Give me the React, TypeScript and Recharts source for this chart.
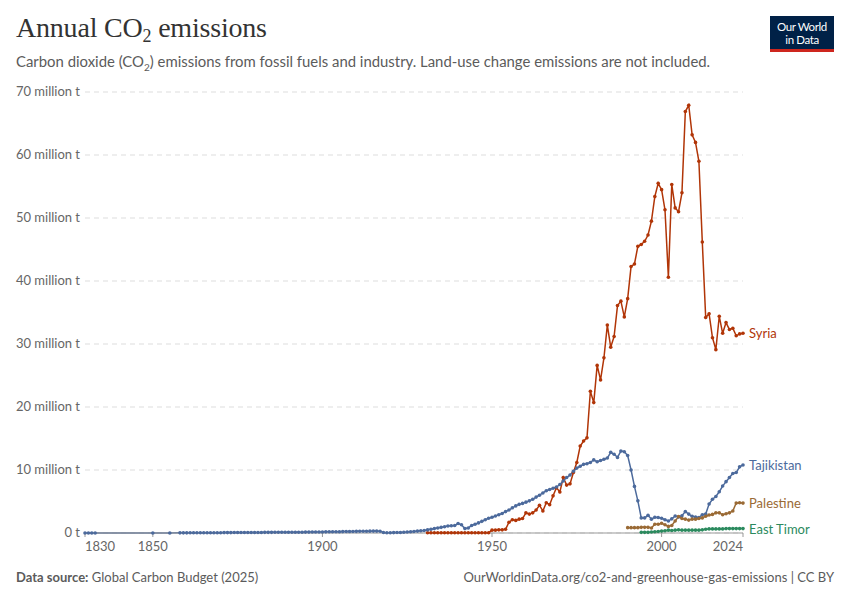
import React from 'react';
import { LineChart, Line, XAxis, YAxis, CartesianGrid, LabelList } from 'recharts';

// million tonnes of CO2
const syriaStart = 1931;
const syria = [
  0.05, 0.05, 0.05, 0.05, 0.05, 0.05, 0.05, 0.05, 0.05, 0.05,
  0.05, 0.05, 0.05, 0.05, 0.05, 0.05, 0.05, 0.05, 0.05,
  0.45, 0.45, 0.5, 0.5, 0.6, 1.7, 2.1, 2.0, 2.2, 2.3,
  3.2, 3.0, 3.2, 3.65, 4.4, 3.5, 4.8, 4.5, 5.9, 7.2,
  6.5, 8.8, 7.6, 7.8, 9.6, 11.2, 13.8, 14.6, 15.1, 22.5,
  20.7, 26.6, 24.3, 27.8, 33.0, 29.5, 31.2, 36.1, 36.8, 34.3,
  37.2, 42.3, 42.7, 45.5, 45.8, 46.3, 47.3, 49.5, 53.4, 55.5,
  54.5, 51.3, 40.6, 55.3, 51.6, 51.0, 54.0, 66.9, 67.9, 63.2,
  62.0, 59.0, 46.2, 34.2, 34.8, 31.0, 29.1, 34.4, 31.7, 33.4,
  32.3, 32.5, 31.3, 31.6, 31.7,
];

const tajikistanEarlyYears = [1830, 1831, 1832, 1833, 1850, 1855];
const tajikistanEarly = [0.01, 0.01, 0.01, 0.01, 0.01, 0.01];
const tajikistanStart = 1858;
const tajikistan = [
  0.02, 0.02, 0.02, 0.03, 0.03, 0.03, 0.03, 0.04, 0.04, 0.04,
  0.05, 0.05, 0.05, 0.06, 0.06, 0.06, 0.07, 0.07, 0.07, 0.08,
  0.08, 0.08, 0.09, 0.09, 0.09, 0.1, 0.1, 0.1, 0.11, 0.11,
  0.11, 0.12, 0.12, 0.12, 0.13, 0.13, 0.13, 0.14, 0.14, 0.15, 0.15, 0.16,
  0.17, 0.18, 0.19, 0.2, 0.2, 0.21, 0.22, 0.23, 0.24, 0.25,
  0.26, 0.27, 0.28, 0.28, 0.29, 0.3, 0.3, 0.28, 0.08, 0.05,
  0.05, 0.06, 0.07, 0.09, 0.12, 0.15, 0.2, 0.25, 0.3, 0.35,
  0.4, 0.5, 0.6, 0.7, 0.8, 0.9, 1.0, 1.1, 1.15, 1.2,
  1.5, 1.3, 0.7, 0.8, 1.2, 1.4, 1.6, 1.85, 2.1, 2.35,
  2.5, 2.7, 2.9, 3.1, 3.4, 3.65, 4.0, 4.3, 4.55, 4.7,
  4.9, 5.1, 5.35, 5.7, 6.0, 6.35, 6.7, 6.9, 7.1, 7.3,
  7.7, 8.25, 8.8, 9.2, 9.8, 10.3, 10.6, 10.9, 11.0, 11.2,
  11.6, 11.3, 11.5, 11.7, 11.9, 12.8, 12.5, 12.0, 13.0, 12.9,
  12.3, 10.0, 7.4, 5.1, 2.4, 2.4, 2.8, 2.2, 2.5, 2.45,
  2.35, 2.1, 1.9, 2.25, 2.7, 2.55, 2.75, 3.4, 3.0, 2.65,
  2.55, 2.45, 2.9, 3.0, 4.6, 5.35, 5.8, 6.55, 7.45, 8.15,
  8.8, 9.45, 9.6, 10.5, 10.8,
];

const palestineStart = 1990;
const palestine = [
  0.85, 0.85, 0.85, 0.85, 0.9, 0.9, 0.9, 0.8, 1.4, 1.4,
  1.55, 1.3, 1.05, 1.2, 1.9, 2.6, 2.3, 2.2, 2.05, 2.2,
  2.2, 2.3, 2.4, 2.65, 2.85, 2.95, 3.2, 3.2, 2.9, 3.05,
  3.2, 3.5, 4.75, 4.8, 4.75,
];

const eastTimorStart = 1994;
const eastTimor = [
  0.1, 0.1, 0.1, 0.15, 0.2, 0.25, 0.3, 0.35, 0.45, 0.4,
  0.45, 0.5, 0.45, 0.45, 0.45, 0.45, 0.45, 0.45, 0.5, 0.6,
  0.65, 0.65, 0.65, 0.65, 0.65, 0.7, 0.7, 0.7, 0.7, 0.7, 0.7,
];

const xTicks = [1830, 1850, 1900, 1950, 2000, 2024];
const yTicks = [0, 10, 20, 30, 40, 50, 60, 70];

const rows: Record<number, any> = {};
const put = (year: number, key: string, v: number) => {
  if (!rows[year]) rows[year] = { year };
  rows[year][key] = v;
};
tajikistanEarlyYears.forEach((y, i) => put(y, 'Tajikistan', tajikistanEarly[i]));
tajikistan.forEach((v, i) => put(tajikistanStart + i, 'Tajikistan', v));
syria.forEach((v, i) => put(syriaStart + i, 'Syria', v));
palestine.forEach((v, i) => put(palestineStart + i, 'Palestine', v));
eastTimor.forEach((v, i) => put(eastTimorStart + i, 'East Timor', v));
const data = Object.values(rows).sort((a, b) => a.year - b.year);
const lastIndex = data.length - 1;

const sans = 'Lato, "Noto Sans", sans-serif';

const series = [
  { key: 'Syria', color: '#b13507' },
  { key: 'Tajikistan', color: '#4c6a9c' },
  { key: 'Palestine', color: '#9a6a35' },
  { key: 'East Timor', color: '#2b8a5e' },
];

const YTick = (props: any) => {
  const { y, payload } = props;
  const label = payload.value === 0 ? '0 t' : `${payload.value} million t`;
  return (
    <text x={80} y={y} dy={4} textAnchor="end" fontSize={13} fill="#666" fontFamily={sans}>
      {label}
    </text>
  );
};

const XTick = (props: any) => {
  const { x, y, payload, index } = props;
  const anchor = index === 0 ? 'start' : index === xTicks.length - 1 ? 'end' : 'middle';
  return (
    <text x={x} y={y} dy={12} textAnchor={anchor} fontSize={13} fill="#666" fontFamily={sans}>
      {payload.value}
    </text>
  );
};

const endLabel = (name: string, color: string) => (props: any) => {
  const { x, y, index } = props;
  if (index !== lastIndex) return null;
  return (
    <text x={x + 6} y={y} dy={5} fontSize={13} fill={color} fontFamily={sans}>
      {name}
    </text>
  );
};

const Dot = (color: string) => (props: any) => {
  const { cx, cy, value } = props;
  if (value == null || cx == null || cy == null) return null;
  return <circle key={`${cx}-${cy}`} cx={cx} cy={cy} r={1.8} fill={color} />;
};

export default function App() {
  return (
    <div style={{ position: 'absolute', left: 0, top: 0, width: 850, height: 600, background: '#fff', fontFamily: sans }}>
      <div style={{ position: 'absolute', left: 16, top: 12, fontFamily: '"Liberation Serif", "DejaVu Serif", serif', fontSize: 28, color: '#333', letterSpacing: -0.2 }}>
        Annual CO<sub style={{ fontSize: 18, verticalAlign: -5, lineHeight: 0 }}>2</sub> emissions
      </div>
      <div style={{ position: 'absolute', left: 16, top: 52, fontSize: 14.9, color: '#5b5b5b' }}>
        Carbon dioxide (CO<sub style={{ fontSize: 10, lineHeight: 0 }}>2</sub>) emissions from fossil fuels and industry. Land-use change emissions are not included.
      </div>
      <div style={{ position: 'absolute', left: 770, top: 16, width: 64, height: 36, background: '#002147', borderBottom: '3px solid #ce261e', boxSizing: 'border-box', color: '#fff', fontSize: 11.5, lineHeight: '13px', textAlign: 'center', paddingTop: 4, letterSpacing: -0.4 }}>
        Our World<br />in Data
      </div>
      <div style={{ position: 'absolute', left: 0, top: 0 }}>
        <LineChart width={850} height={600} data={data} margin={{ top: 92, right: 107, bottom: 0, left: 15 }}>
          <CartesianGrid horizontal vertical={false} stroke="#ddd" strokeDasharray="5 4" />
          <XAxis
            dataKey="year"
            type="number"
            domain={[1830, 2024]}
            ticks={xTicks}
            tick={<XTick />}
            axisLine={{ stroke: '#999' }}
            tickLine={{ stroke: '#999' }}
            tickSize={4}
            height={67}
            interval={0}
          />
          <YAxis
            type="number"
            domain={[0, 70]}
            ticks={yTicks}
            tick={<YTick />}
            axisLine={false}
            tickLine={false}
            width={70}
            interval={0}
          />
          {series.map((s) => (
            <Line
              key={s.key}
              type="linear"
              dataKey={s.key}
              stroke={s.color}
              strokeWidth={1.5}
              dot={Dot(s.color)}
              activeDot={false}
              connectNulls
              isAnimationActive={false}
            >
              <LabelList dataKey={s.key} content={endLabel(s.key, s.color)} />
            </Line>
          ))}
        </LineChart>
      </div>
      <div style={{ position: 'absolute', left: 16, top: 569, fontSize: 13, color: '#5b5b5b' }}>
        <span style={{ fontWeight: 700 }}>Data source:</span> Global Carbon Budget (2025)
      </div>
      <div style={{ position: 'absolute', right: 16, top: 569, fontSize: 13, color: '#5b5b5b' }}>
        OurWorldinData.org/co2-and-greenhouse-gas-emissions | CC BY
      </div>
    </div>
  );
}
